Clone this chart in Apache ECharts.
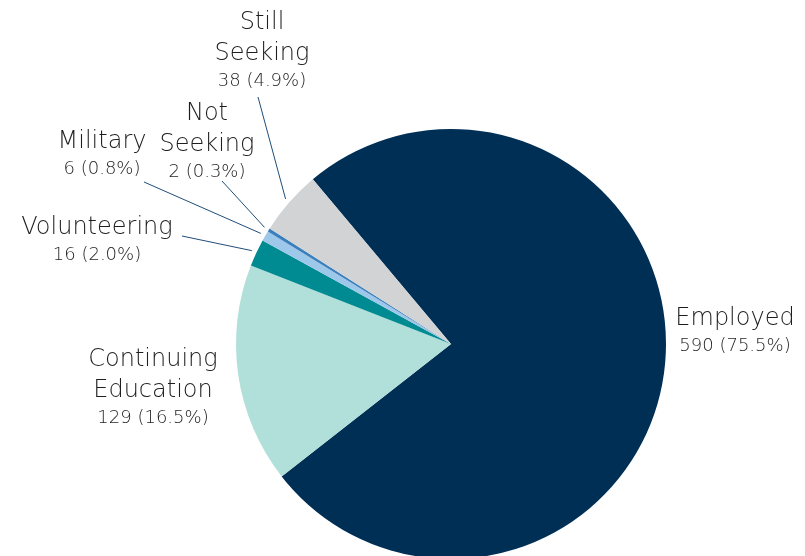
<!DOCTYPE html>
<html>
<head>
<meta charset="utf-8">
<script src="https://cdn.jsdelivr.net/npm/echarts@6/dist/echarts.min.js"></script>
<style>
html,body{margin:0;padding:0;background:#fff;}
#chart{width:805px;height:556px;}
</style>
</head>
<body>
<div id="chart"></div>
<script>
// Data
var categories = ['Employed', 'Continuing Education', 'Volunteering', 'Military', 'Not Seeking', 'Still Seeking'];
var counts = [590, 129, 16, 6, 2, 38];
var colors = ['#002F56', '#B1DFD9', '#008A91', '#9DC8EA', '#3B7FBD', '#D2D3D5'];

// Label layout (pixel positions of label block centres and leader-line ends)
var labelPos = {
  'Employed': {x: 735, y: 331, line: null},
  'Continuing Education': {x: 153, y: 387, line: null},
  'Volunteering': {x: 97, y: 240, line: [182, 236]},
  'Military': {x: 102, y: 154, line: [144, 182]},
  'Not Seeking': {x: 207, y: 141, line: [222, 181]},
  'Still Seeking': {x: 262, y: 50, line: [258, 97]}
};

var CX = 451, CY = 344, R = 215;
var chart = echarts.init(document.getElementById('chart'), null, {renderer: 'canvas'});
var fontFam = '"DejaVu Sans", sans-serif';

var option = {
  animation: false,
  backgroundColor: '#ffffff',
  color: colors,
  series: [{
    type: 'pie',
    center: [CX, CY],
    radius: [0, R],
    startAngle: 130,
    clockwise: true,
    percentPrecision: 1,
    avoidLabelOverlap: false,
    itemStyle: {borderWidth: 0},
    emphasis: {disabled: true},
    data: categories.map(function (c, i) { return {name: c, value: counts[i]}; }),
    label: {
      show: true,
      position: 'outside',
      formatter: function (p) {
        var lines = p.name.split(' ').map(function (w) { return '{n|' + w + '}'; });
        return lines.join('\n') + '\n{v|' + p.value + ' (' + p.percent.toFixed(1) + '%)}';
      },
      rich: {
        n: {fontSize: 24, lineHeight: 31, color: '#1e1e1e', fontFamily: fontFam, fontWeight: 200, align: 'center'},
        v: {fontSize: 18, lineHeight: 24, color: '#1e1e1e', fontFamily: fontFam, fontWeight: 200, align: 'center'}
      }
    },
    labelLine: {
      show: true,
      lineStyle: {color: '#1F4E7A', width: 1}
    },
    labelLayout: function (params) {
      var name = categories[params.dataIndex];
      var lp = labelPos[name];
      var out = {x: lp.x, y: lp.y, align: 'center', verticalAlign: 'middle'};
      if (lp.line && params.labelLinePoints) {
        var p0 = params.labelLinePoints[0];
        var dx = p0[0] - CX, dy = p0[1] - CY;
        var d = Math.sqrt(dx * dx + dy * dy) || 1;
        var s = [p0[0] + dx / d * 5, p0[1] + dy / d * 5];
        out.labelLinePoints = [s, lp.line];
      } else {
        out.labelLinePoints = [[lp.x, lp.y], [lp.x, lp.y]];
      }
      return out;
    }
  }]
};
chart.setOption(option);
</script>
</body>
</html>
